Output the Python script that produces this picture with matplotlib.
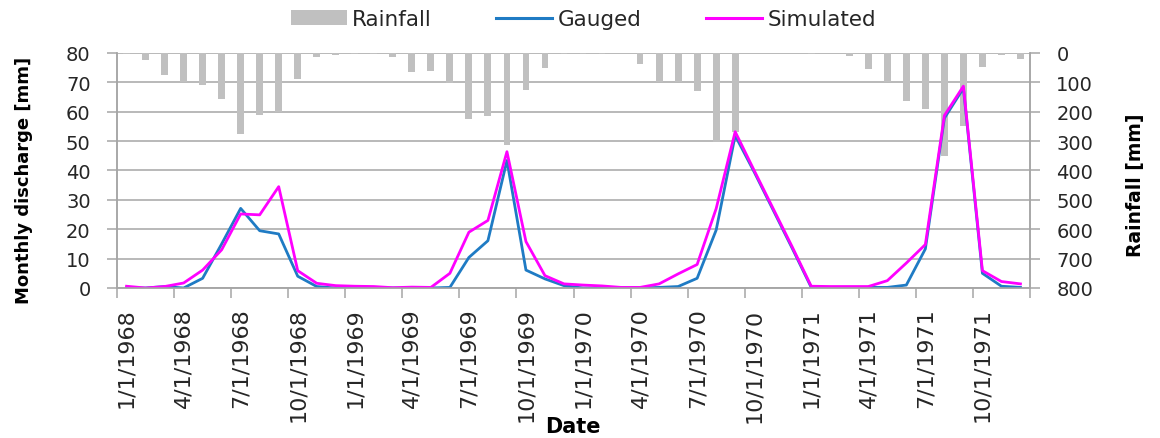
import numpy as np
import matplotlib
matplotlib.use('Agg')
import matplotlib.pyplot as plt
from matplotlib.patches import Patch
from matplotlib.lines import Line2D

# --- monthly series, Jan 1968 .. Dec 1971 (48 months) ---
gauged = [0, 0, 0.5, 0, 3.3, 15, 27.1, 19.5, 18.4, 4, 0.5, 0,
          0, 0, 0, 0, 0, 0.2, 10.4, 16.1, 43.4, 6.1, 3.1, 0.8,
          0, 0, 0, 0, 0.2, 0.5, 3.3, 19.7, 51.9, 39.5, 26.5, 13.5,
          0.2, 0.2, 0.2, 0.2, 0.2, 1.0, 13.3, 57.8, 68, 5, 0.6, 0.2]
simulated = [0.6, 0, 0.5, 1.7, 6.1, 13, 25.2, 24.9, 34.5, 5.9, 1.6, 0.8,
             0.6, 0.5, 0.1, 0.3, 0.2, 5, 19, 23, 46.4, 15.8, 4.2, 1.4,
             1.0, 0.7, 0.2, 0.2, 1.4, 4.8, 8, 27, 53.2, 40, 27, 14,
             0.6, 0.5, 0.5, 0.5, 2.5, 8.5, 14.8, 58.7, 68.7, 5.9, 2.2, 1.4]
rainfall = [2, 24, 75, 100, 109, 157, 276, 211, 202, 89, 15, 7,
            3, 3, 15, 66, 62, 103, 225, 216, 313, 126, 50, 2,
            2, 2, 0, 37, 100, 100, 131, 304, 270, 0, 0, 0,
            2, 0, 9, 54, 98, 163, 191, 350, 250, 49, 6, 20]
date_labels = ['1/1/1968', '4/1/1968', '7/1/1968', '10/1/1968',
               '1/1/1969', '4/1/1969', '7/1/1969', '10/1/1969',
               '1/1/1970', '4/1/1970', '7/1/1970', '10/1/1970',
               '1/1/1971', '4/1/1971', '7/1/1971', '10/1/1971']

plt.rcParams['font.family'] = ['DejaVu Sans']
GRID = '#a6a6a6'
BLUE = '#1f7bc4'
MAGENTA = '#ff00ff'
TXT = '#262626'

x = np.arange(len(gauged))

fig = plt.figure(figsize=(11.6, 4.39), dpi=100)
ax = fig.add_axes([0.1009, 0.3417, 0.7870, 0.5353])
axr = ax.twinx()

# rainfall bars hang from the top (inverted secondary axis)
axr.bar(x, rainfall, width=0.36, color='#c0c0c0', zorder=2)
axr.set_ylim(800, 0)
axr.set_yticks(np.arange(0, 801, 100))
axr.yaxis.grid(True, color=GRID, linewidth=1.1, zorder=0)
axr.set_axisbelow(True)
axr.set_ylabel('Rainfall [mm]', fontsize=13.5, fontweight='bold')
axr.yaxis.set_label_coords(1.105, 0.443)

# discharge lines on top
ax.set_zorder(axr.get_zorder() + 1)
ax.patch.set_visible(False)
ax.plot(x, gauged, color=BLUE, linewidth=2.0)
ax.plot(x, simulated, color=MAGENTA, linewidth=2.0)
ax.set_ylim(0, 80)
ax.set_yticks(np.arange(0, 81, 10))
ax.set_xlim(-0.5, len(gauged) - 0.5)
ax.set_ylabel('Monthly discharge [mm]', fontsize=13, fontweight='bold')
ax.yaxis.set_label_coords(-0.092, 0.46)

ax.set_xticks(np.arange(-0.5, len(gauged), 3))
ax.set_xticklabels([])
ax.set_xticks(np.arange(0, len(gauged), 3), minor=True)
ax.set_xticklabels(date_labels, minor=True, rotation=90, fontsize=16, color=TXT)
ax.tick_params(axis='x', which='minor', length=0, pad=14)
axr.set_xlim(ax.get_xlim())

for a in (ax, axr):
    a.tick_params(axis='both', which='major', color=GRID, length=7, width=1.1,
                  labelsize=14, labelcolor=TXT, direction='out')
    a.tick_params(axis='y', pad=12)
    a.spines['top'].set_visible(False)
    for side in ('left', 'right', 'bottom'):
        a.spines[side].set_color(GRID)
        a.spines[side].set_linewidth(1.1)

fig.text(0.494, 1 - 433 / 439, 'Date', fontsize=15, fontweight='bold',
         ha='center', va='baseline')

handles = [Patch(facecolor='#c0c0c0', edgecolor='none'),
           Line2D([], [], color=BLUE, linewidth=2.2),
           Line2D([], [], color=MAGENTA, linewidth=2.2)]
leg = fig.legend(handles, ['Rainfall', 'Gauged', 'Simulated'], loc='center',
                 bbox_to_anchor=(0.503, 0.954), ncol=3, frameon=False, fontsize=15.5,
                 handlelength=2.6, handletextpad=0.25, columnspacing=3.0)
for t in leg.get_texts():
    t.set_color(TXT)

fig.savefig('out.png', dpi=100)
